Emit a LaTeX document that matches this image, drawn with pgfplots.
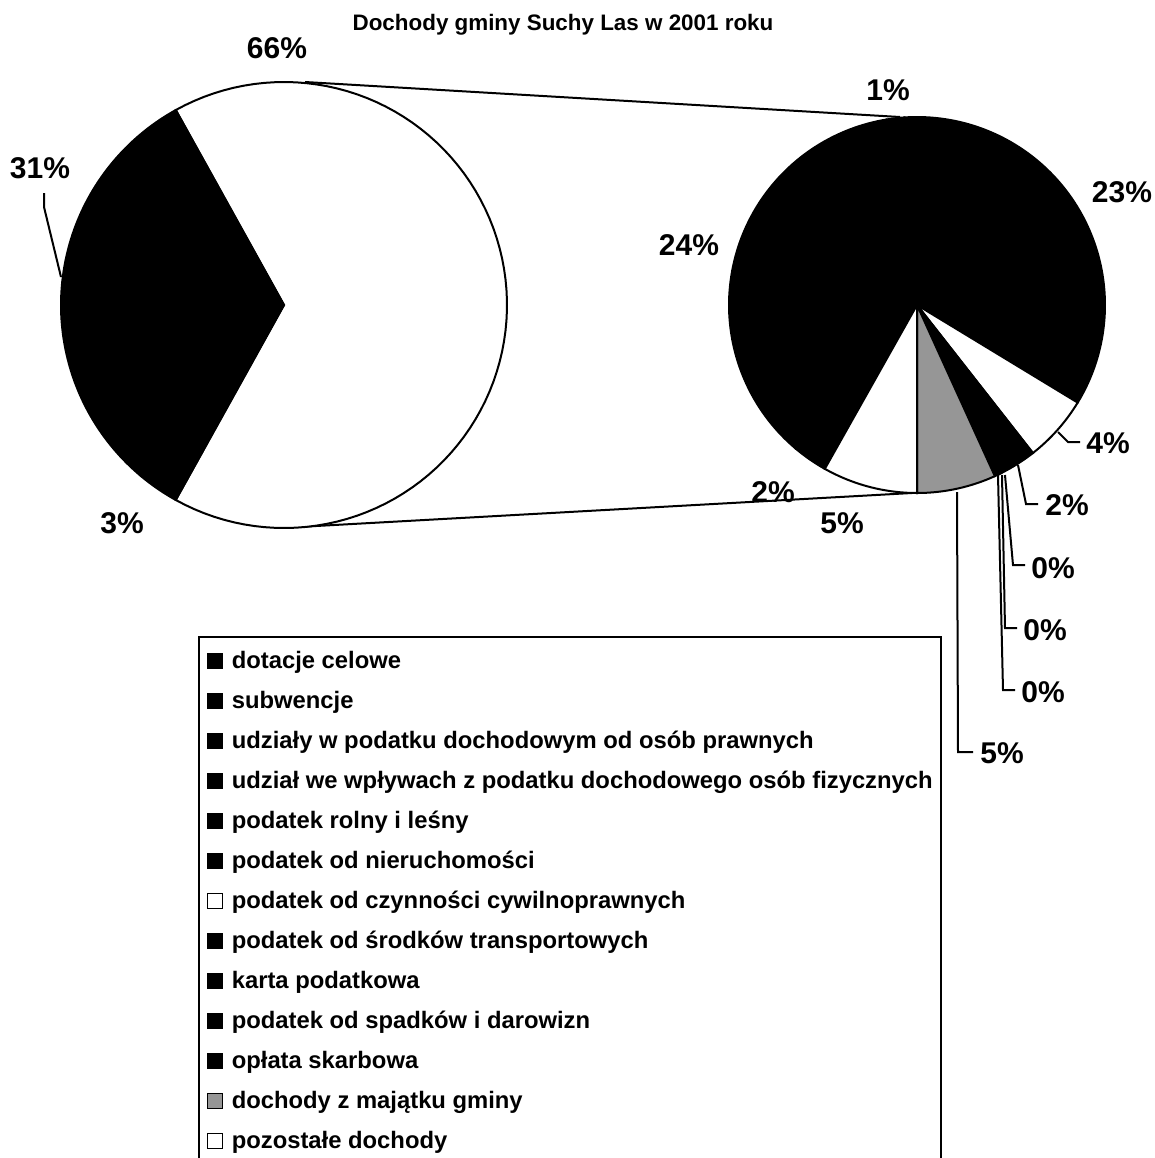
\documentclass[border=0pt]{standalone}
\usepackage{fontspec}
\setmainfont{Liberation Sans}
\usepackage{pgfplots}
\usepackage{pgfplotstable}
\pgfplotsset{compat=1.18}
\definecolor{xgray}{RGB}{150,150,150}

% shares of total revenue (percent)
\pgfplotstableread{
id value
1 3.0
2 30.9
3 2.0
4 24.0
5 1.0
6 23.0
7 3.8
8 2.1
9 0.1
10 0.1
11 0.2
12 4.5
13 5.4
}\revenue

\newcommand\getv[2]{\pgfplotstablegetelem{#1}{value}\of\revenue\global\let#2\pgfplotsretval}
% slice: cx, cy, r, start angle, end angle, style
\newcommand\slice[6]{%
  \addplot[#6, domain=#4:#5, samples=90, variable=\t]
    ({#1+#3*cos(\t)},{#2-#3*sin(\t)}) -- (axis cs:#1,#2) -- cycle;}

\begin{document}
\begin{tikzpicture}
\getv{0}\vA \getv{1}\vB \getv{2}\vC \getv{3}\vD \getv{4}\vE \getv{5}\vF
\getv{6}\vG \getv{7}\vH \getv{8}\vI \getv{9}\vJ \getv{10}\vK \getv{11}\vL \getv{12}\vM
\pgfmathsetmacro\R{\vC+\vD+\vE+\vF+\vG+\vH+\vI+\vJ+\vK+\vL+\vM}
\pgfmathsetmacro\T{\vA+\vB+\R}
\pgfmathsetmacro\hO{180*\R/\T}
\pgfmathsetmacro\mhO{-\hO}
\pgfmathsetmacro\sB{\hO+360*\vB/\T}
\pgfmathsetmacro\eA{360-\hO}
% right pie, clockwise from 270
\pgfmathsetmacro\aO{270}
\pgfmathsetmacro\aM{\aO-360*\vM/\R}
\pgfmathsetmacro\aC{\aM-360*\vC/\R}
\pgfmathsetmacro\aD{\aC-360*\vD/\R}
\pgfmathsetmacro\aE{\aD-360*\vE/\R}
\pgfmathsetmacro\aF{\aE-360*\vF/\R}
\pgfmathsetmacro\aG{\aF-360*\vG/\R}
\pgfmathsetmacro\aH{\aG-360*\vH/\R}
\pgfmathsetmacro\aI{\aH-360*\vI/\R}
\pgfmathsetmacro\aJ{\aI-360*\vJ/\R}
\pgfmathsetmacro\aK{\aJ-360*\vK/\R}
\pgfmathsetmacro\aL{\aK-360*\vL/\R}
\begin{axis}[name=ax,
  scale only axis, width=577.5pt, height=579pt,
  xmin=0, xmax=1155, ymin=0, ymax=1158, y dir=reverse,
  hide axis, clip=false,
  legend cell align=left,
  legend image code/.code={\draw[#1, line width=0.5pt] (0pt,0pt) rectangle (7.4pt,7.4pt);},
  legend style={at={(axis cs:198,636)}, anchor=north west, draw=black, line width=1pt,
    fill=white, font=\fontsize{11.9}{13}\selectfont\bfseries,
    inner xsep=4pt, inner ysep=7pt, row sep=9pt, column sep=4.5pt,
    nodes={inner sep=0pt, text height=8.5pt, text depth=2.5pt, anchor=base west}},
  every axis plot/.append style={line width=1pt}
]
% connector lines
\addplot[forget plot, black, line width=1pt] coordinates {(305,82) (900,117)};
\addplot[forget plot, black, line width=1pt] coordinates {(298,527) (912,493)};
% left pie: other (white)
\slice{284}{305}{223}{\mhO}{\hO}{forget plot, fill=white, draw=black}
% legend-order slices
\slice{284}{305}{223}{\sB}{\eA}{fill=black, draw=black}
\addlegendentry{dotacje celowe}
\slice{284}{305}{223}{\hO}{\sB}{fill=black, draw=black}
\addlegendentry{subwencje}
\slice{917}{305}{188}{\aC}{\aM}{fill=black, draw=black}
\addlegendentry{udziały w podatku dochodowym od osób prawnych}
\slice{917}{305}{188}{\aD}{\aC}{fill=black, draw=black}
\addlegendentry{udział we wpływach z podatku dochodowego osób fizycznych}
\slice{917}{305}{188}{\aE}{\aD}{fill=black, draw=black}
\addlegendentry{podatek rolny i leśny}
\slice{917}{305}{188}{\aF}{\aE}{fill=black, draw=black}
\addlegendentry{podatek od nieruchomości}
\slice{917}{305}{188}{\aG}{\aF}{fill=white, draw=black}
\addlegendentry{podatek od czynności cywilnoprawnych}
\slice{917}{305}{188}{\aH}{\aG}{fill=black, draw=black}
\addlegendentry{podatek od środków transportowych}
\slice{917}{305}{188}{\aI}{\aH}{fill=black, draw=black}
\addlegendentry{karta podatkowa}
\slice{917}{305}{188}{\aJ}{\aI}{fill=black, draw=black}
\addlegendentry{podatek od spadków i darowizn}
\slice{917}{305}{188}{\aK}{\aJ}{fill=black, draw=black}
\addlegendentry{opłata skarbowa}
\slice{917}{305}{188}{\aL}{\aK}{fill=xgray, draw=black}
\addlegendentry{dochody z majątku gminy}
\slice{917}{305}{188}{\aM}{\aO}{fill=white, draw=black}
\addlegendentry{pozostałe dochody}
% leader lines
\addplot[forget plot, black, line width=1pt] coordinates {(44,193) (44,207) (61,277)};
\addplot[forget plot, black, line width=1pt] coordinates {(1058,432) (1068,442) (1080,442)};
\addplot[forget plot, black, line width=1pt] coordinates {(1018,465) (1026,504) (1038,504)};
\addplot[forget plot, black, line width=1pt] coordinates {(1005,475) (1013,565) (1025,565)};
\addplot[forget plot, black, line width=1pt] coordinates {(1002,475) (1005,628) (1017,628)};
\addplot[forget plot, black, line width=1pt] coordinates {(998,475) (1003,690) (1015,690)};
\addplot[forget plot, black, line width=1pt] coordinates {(957,492) (958,752) (973,752)};
% title and labels
\node[font=\fontsize{11.2}{13}\selectfont\bfseries] at (axis cs:563,25) {Dochody gminy Suchy Las w 2001 roku};
\begin{scope}[every node/.style={font=\fontsize{15}{17}\selectfont\bfseries}]
\node at (axis cs:277,48) {66\%};
\node at (axis cs:40,168) {31\%};
\node at (axis cs:122,523) {3\%};
\node at (axis cs:888,90) {1\%};
\node at (axis cs:1122,192) {23\%};
\node at (axis cs:689,245) {24\%};
\node at (axis cs:1108,443) {4\%};
\node at (axis cs:1067,505) {2\%};
\node at (axis cs:1053,568) {0\%};
\node at (axis cs:1045,630) {0\%};
\node at (axis cs:1043,692) {0\%};
\node at (axis cs:1002,753) {5\%};
\node at (axis cs:773,492) {2\%};
\node at (axis cs:842,523) {5\%};
\end{scope}
\end{axis}
\pgfresetboundingbox
\path (ax.south west) rectangle (ax.north east);
\end{tikzpicture}
\end{document}
